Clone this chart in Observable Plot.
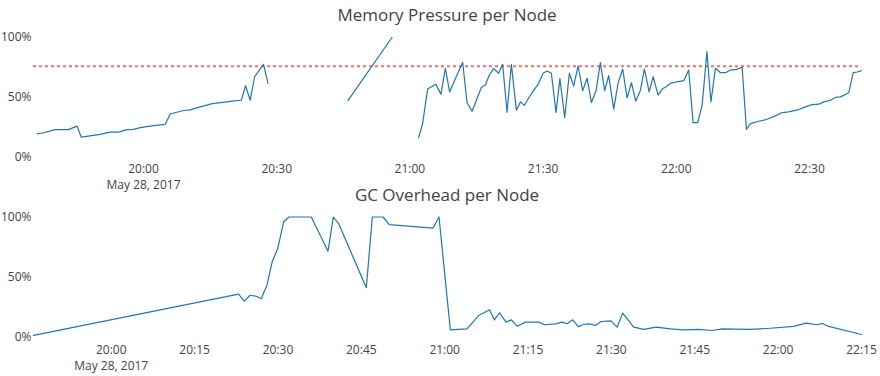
<!DOCTYPE html>
<html>
<head>
<meta charset="utf-8">
<script src="https://cdn.jsdelivr.net/npm/d3@7"></script>
<script src="https://cdn.jsdelivr.net/npm/@observablehq/plot@0.6"></script>
<style>
  body { margin: 0; background: #fff; }
  #wrap { position: relative; width: 880px; height: 376px; font-family: "Open Sans", sans-serif; color: #444; overflow: hidden; }
  .title { position: absolute; font-size: 17px; line-height: 17px; text-align: center; white-space: nowrap; color: #444; }
  .chart { position: absolute; left: 0; }
</style>
</head>
<body>
<div id="wrap"></div>
<script>
// ---------- data ----------
const day = "2017-05-28";
const dateLabel = ["May 28, 2017"];

const memTitle = "Memory Pressure per Node";
const memTimes = ["19:36:07","19:37:20","19:40:06","19:43:06","19:45:00","19:45:58","19:50:14","19:52:29","19:54:22","19:56:16",
  "19:57:45","19:59:16","20:02:15","20:04:53","20:06:01","20:09:01","20:10:31","20:12:47","20:15:30","20:18:47",
  "20:20:17","20:22:01","20:22:59","20:24:02","20:25:01","20:27:02","20:28:02","20:37:00","20:46:04","20:55:58",
  "20:59:00","21:01:58","21:02:52","21:03:59","21:05:50","21:07:00","21:07:59","21:08:57","21:11:53","21:12:52",
  "21:14:00","21:16:05","21:17:00","21:17:54","21:18:52","21:19:59","21:20:53","21:21:53","21:22:51","21:23:59",
  "21:24:53","21:25:47","21:27:08","21:29:00","21:30:00","21:30:54","21:31:52","21:32:54","21:33:47","21:34:52",
  "21:35:55","21:36:53","21:37:53","21:38:55","21:39:55","21:40:53","21:41:56","21:42:54","21:43:52","21:44:46",
  "21:45:54","21:46:53","21:47:56","21:48:55","21:49:54","21:50:52","21:51:55","21:52:49","21:53:53","21:54:47",
  "21:55:55","21:56:49","21:57:42","21:58:41","22:00:11","22:01:41","22:02:48","22:03:47","22:04:50","22:05:49",
  "22:06:54","22:07:48","22:08:49","22:09:57","22:11:04","22:12:12","22:13:33","22:14:50","22:15:48","22:16:42",
  "22:18:35","22:20:28","22:22:20","22:23:51","22:25:20","22:27:35","22:29:06","22:30:36","22:32:06","22:33:13",
  "22:34:44","22:35:52","22:36:59","22:38:51","22:39:51","22:40:45","22:41:39"];
const memValues = [0.197,0.202,0.230,0.230,0.260,0.168,0.190,0.210,0.210,0.230,
  0.232,0.247,0.264,0.275,0.361,0.390,0.395,0.420,0.447,0.462,
  0.470,0.476,0.597,0.476,0.672,0.776,0.617,null,0.474,1.000,
  null,0.163,0.281,0.569,0.610,0.527,0.743,0.546,0.793,0.457,
  0.384,0.583,0.603,0.687,0.740,0.701,0.776,0.375,0.776,0.392,
  0.462,0.434,0.518,0.617,0.701,0.720,0.701,0.375,0.656,0.331,
  0.701,0.594,0.762,0.555,0.659,0.457,0.555,0.790,0.555,0.681,
  0.401,0.617,0.737,0.496,0.622,0.468,0.560,0.737,0.546,0.672,
  0.518,0.569,0.588,0.617,0.630,0.639,0.729,0.289,0.289,0.434,
  0.882,0.462,0.743,0.706,0.706,0.728,0.734,0.751,0.233,0.281,
  0.300,0.317,0.345,0.373,0.378,0.398,0.420,0.440,0.443,0.462,
  0.476,0.499,0.504,0.538,0.706,0.712,0.723];
const memThreshold = [0.76];
const memDomain = ["19:35:13", "22:41:43"];
const memTicks = ["20:00","20:30","21:00","21:30","22:00","22:30"];

const gcTitle = "GC Overhead per Node";
const gcTimes = ["19:46:01","20:22:55","20:23:56","20:25:01","20:26:00","20:26:59","20:28:01","20:28:59","20:29:58","20:31:01",
  "20:31:59","20:36:00","20:39:00","20:39:58","20:40:55","20:45:54","20:46:59","20:48:54","20:50:02","20:57:54",
  "20:58:59","21:01:01","21:04:01","21:06:06","21:08:05","21:08:56","21:09:53","21:11:02","21:12:00","21:13:01",
  "21:14:31","21:16:55","21:17:59","21:19:55","21:21:07","21:22:01","21:23:02","21:24:03","21:25:00","21:26:05",
  "21:27:07","21:28:08","21:29:56","21:31:01","21:32:02","21:34:01","21:35:49","21:38:02","21:40:37","21:43:00",
  "21:45:43","21:48:07","21:49:55","21:55:01","21:58:37","22:02:48","22:05:02","22:07:01","22:08:01","22:09:06",
  "22:15:00"];
const gcValues = [0.013,0.357,0.299,0.348,0.341,0.319,0.432,0.630,0.738,0.958,
  1.000,1.000,0.714,1.000,0.945,0.411,1.000,1.000,0.937,0.908,
  1.000,0.060,0.068,0.179,0.227,0.143,0.202,0.124,0.143,0.090,
  0.124,0.124,0.102,0.110,0.124,0.110,0.143,0.086,0.104,0.110,
  0.096,0.129,0.135,0.082,0.199,0.082,0.063,0.082,0.068,0.060,
  0.063,0.054,0.068,0.063,0.073,0.088,0.115,0.102,0.113,0.088,
  0.021];
const gcDomain = ["19:46:01", "22:15:00"];
const gcTicks = ["20:00","20:15","20:30","20:45","21:00","21:15","21:30","21:45","22:00","22:15"];

const yTicks = [0, 0.5, 1];

// ---------- helpers ----------
const parse = d3.timeParse("%Y-%m-%d %H:%M:%S");
const toDate = s => parse(day + " " + (s.length === 5 ? s + ":00" : s));
const hm = d3.timeFormat("%H:%M");

function makeChart({times, values, domain, ticks, threshold, top, marginTop, marginBottom, tickPadding}) {
  const rows = times.map((s, i) => ({time: toDate(s), value: values[i]}));
  const tickDates = ticks.map(toDate);
  const first = tickDates[0].getTime();
  const marks = [
    Plot.axisY({ticks: yTicks, tickFormat: d3.format(".0%"), tickSize: 0, tickPadding: 2, label: null, fontSize: 12}),
    Plot.axisX({ticks: tickDates, tickSize: 0, tickPadding, label: null, lineHeight: 1.35, fontSize: 12,
      tickFormat: d => d.getTime() === first ? hm(d) + "\n" + dateLabel[0] : hm(d)})
  ];
  if (threshold) marks.push(Plot.ruleY(threshold, {stroke: "#ff6b6b", strokeWidth: 2, strokeDasharray: "3,3"}));
  marks.push(Plot.line(rows, {x: "time", y: "value", stroke: "#1f77b4", strokeWidth: 1.2}));
  const svg = Plot.plot({
    width: 880, height: 188,
    marginLeft: 33, marginRight: 19, marginTop, marginBottom,
    x: {type: "time", domain: domain.map(toDate)},
    y: {domain: [0, 1]},
    style: {fontFamily: "Open Sans", fontSize: "12px", color: "#444", background: "transparent", overflow: "visible"},
    marks
  });
  svg.classList.add("chart");
  svg.style.top = top + "px";
  return svg;
}

const wrap = document.getElementById("wrap");
wrap.append(makeChart({times: memTimes, values: memValues, domain: memDomain, ticks: memTicks,
  threshold: memThreshold, top: 0, marginTop: 37, marginBottom: 31.3, tickPadding: 4}));
wrap.append(makeChart({times: gcTimes, values: gcValues, domain: gcDomain, ticks: gcTicks,
  threshold: null, top: 188, marginTop: 28.5, marginBottom: 39.5, tickPadding: 5}));

function addTitle(text, top) {
  const d = document.createElement("div");
  d.className = "title";
  d.style.left = "33px";
  d.style.width = "828px";
  d.style.top = top + "px";
  d.textContent = text;
  wrap.append(d);
}
addTitle(memTitle, 6);
addTitle(gcTitle, 186);
</script>
</body>
</html>
